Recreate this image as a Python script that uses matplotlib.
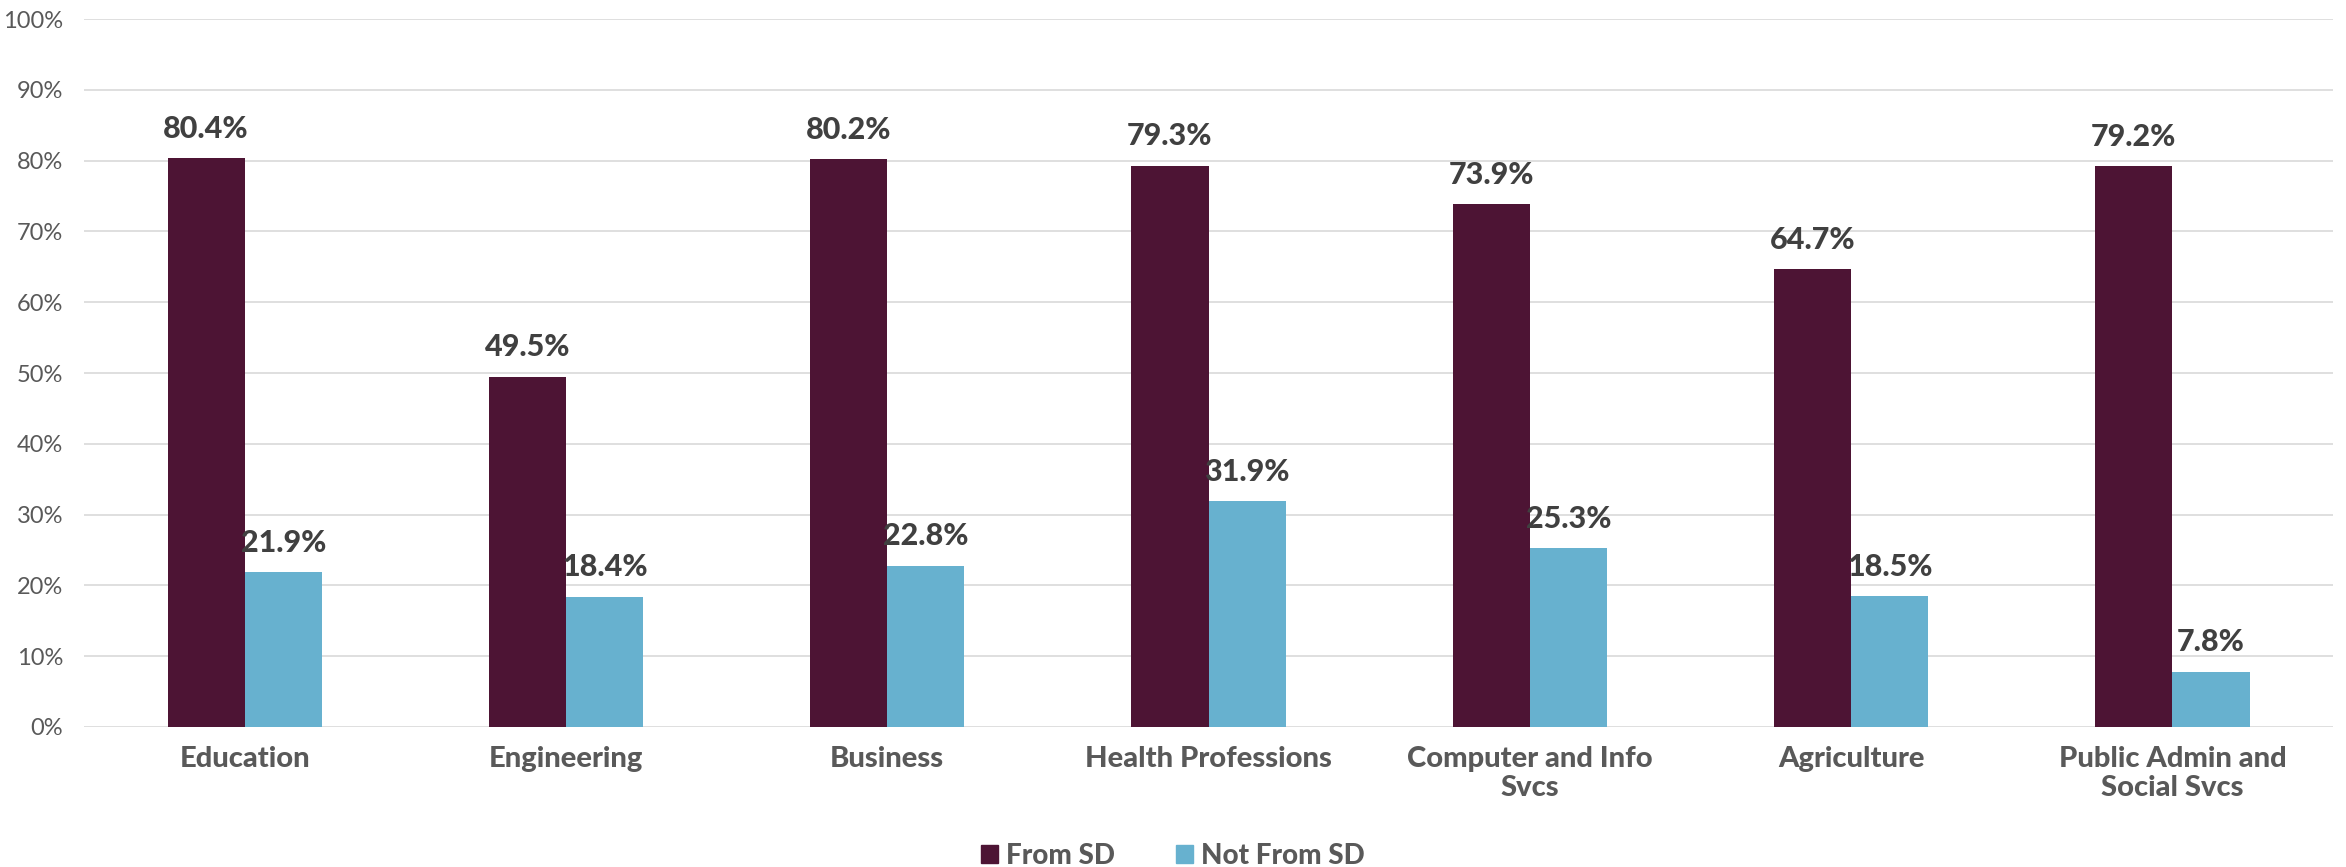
import matplotlib
matplotlib.use("Agg")
import matplotlib.pyplot as plt
import numpy as np
from matplotlib.ticker import FuncFormatter, MultipleLocator
from matplotlib.patches import Patch

categories = ["Education", "Engineering", "Business", "Health Professions",
              "Computer and Info\nSvcs", "Agriculture", "Public Admin and\nSocial Svcs"]
from_sd = [80.4, 49.5, 80.2, 79.3, 73.9, 64.7, 79.2]
not_from_sd = [21.9, 18.4, 22.8, 31.9, 25.3, 18.5, 7.8]
series_names = ["From SD", "Not From SD"]

maroon = "#4D1434"
blue = "#67B1CF"
text_grey = "#595959"
label_dark = "#404040"
grid_grey = "#D9D9D9"

plt.rcParams["font.family"] = ["Lato", "DejaVu Sans"]
heavy = 900

fig = plt.figure(figsize=(23.46, 8.67), dpi=100)
ax = fig.add_axes([0.0358, 0.1615, 0.9587, 0.8165])

x = np.arange(len(categories))
w = 0.24
b1 = ax.bar(x - w / 2, from_sd, width=w, color=maroon, zorder=3)
b2 = ax.bar(x + w / 2, not_from_sd, width=w, color=blue, zorder=3)

for bars, vals in ((b1, from_sd), (b2, not_from_sd)):
    for rect, v in zip(bars, vals):
        ax.annotate(f"{v:.1f}%", (rect.get_x() + rect.get_width() / 2, v),
                    xytext=(0, 11), textcoords="offset points",
                    ha="center", va="bottom", fontsize=22, fontweight=heavy,
                    color=label_dark)

ax.set_xlim(-0.5, len(categories) - 0.5)
ax.set_ylim(0, 100)
ax.yaxis.set_major_locator(MultipleLocator(10))
ax.yaxis.set_major_formatter(FuncFormatter(lambda v, _: f"{v:.0f}%"))
ax.grid(axis="y", color=grid_grey, linewidth=1.2, zorder=0)
ax.set_axisbelow(True)

for s in ax.spines.values():
    s.set_visible(False)

ax.tick_params(axis="y", length=0, labelsize=17, labelcolor=text_grey, pad=15)
ax.tick_params(axis="x", length=0, pad=14)
ax.set_xticks(x)
ax.set_xticklabels(categories, fontsize=21, fontweight=heavy, color=text_grey,
                   linespacing=1.1)

handles = [Patch(color=maroon), Patch(color=blue)]
leg = fig.legend(handles, series_names, loc="center", bbox_to_anchor=(0.5, 0.013),
                 ncol=2, frameon=False, fontsize=20, handlelength=0.6,
                 handleheight=0.6, handletextpad=0.3, columnspacing=2.2)
for t in leg.get_texts():
    t.set_color(text_grey)
    t.set_fontweight(heavy)

fig.savefig("out.png", dpi=100)
